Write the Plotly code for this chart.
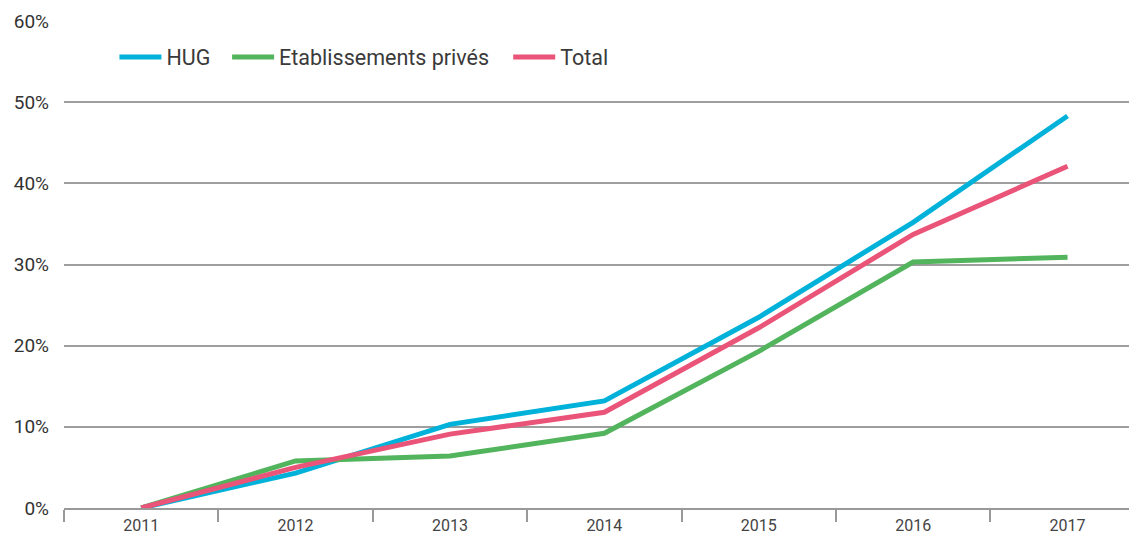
import plotly.graph_objects as go

years = ["2011", "2012", "2013", "2014", "2015", "2016", "2017"]
hug = [0.0, 4.3, 10.3, 13.2, 23.5, 35.2, 48.3]
prives = [0.0, 5.8, 6.4, 9.2, 19.3, 30.3, 30.9]
total = [0.0, 5.0, 9.1, 11.8, 22.2, 33.7, 42.1]

series = [
    ("HUG", hug, "#00b2d9", "legend", 0.047),
    ("Etablissements privés", prives, "#52b45c", "legend2", 0.152),
    ("Total", total, "#ea5478", "legend3", 0.414),
]

font_family = "Roboto, Inter, Arial, sans-serif"

fig = go.Figure()
legends = {}
for name, vals, color, leg, lx in series:
    fig.add_trace(go.Scatter(
        x=years, y=vals, name=name, mode="lines",
        line=dict(color=color, width=5), legend=leg,
    ))
    legends[leg] = dict(
        orientation="h", x=lx, y=0.926, xanchor="left", yanchor="middle",
        font=dict(size=21.5, color="#3a3a3a"), bgcolor="rgba(0,0,0,0)",
        itemwidth=42,
    )

fig.update_layout(
    width=1129, height=527,
    margin=dict(l=56, r=0, t=13, b=27),
    paper_bgcolor="white", plot_bgcolor="white",
    font=dict(family=font_family, color="#333333"),
    showlegend=True,
    **legends,
    xaxis=dict(
        type="category", range=[-0.5, 6.45], automargin=False,
        showgrid=False, showline=True, linecolor="#999999", linewidth=1.5,
        ticks="outside", tickson="boundaries", ticklen=12, tickcolor="#999999",
        tickwidth=1.5, tickfont=dict(size=16, color="#444444"),
        ticklabelstandoff=2,
        fixedrange=True,
    ),
    yaxis=dict(
        range=[0, 60], dtick=10, ticksuffix="%", automargin=False,
        showgrid=True, gridcolor="#9e9e9e", gridwidth=1.5,
        zeroline=False, showline=False,
        ticks="", ticklabelstandoff=14,
        tickfont=dict(size=19, color="#333333"),
        fixedrange=True,
    ),
)

fig.write_html("out.html")
